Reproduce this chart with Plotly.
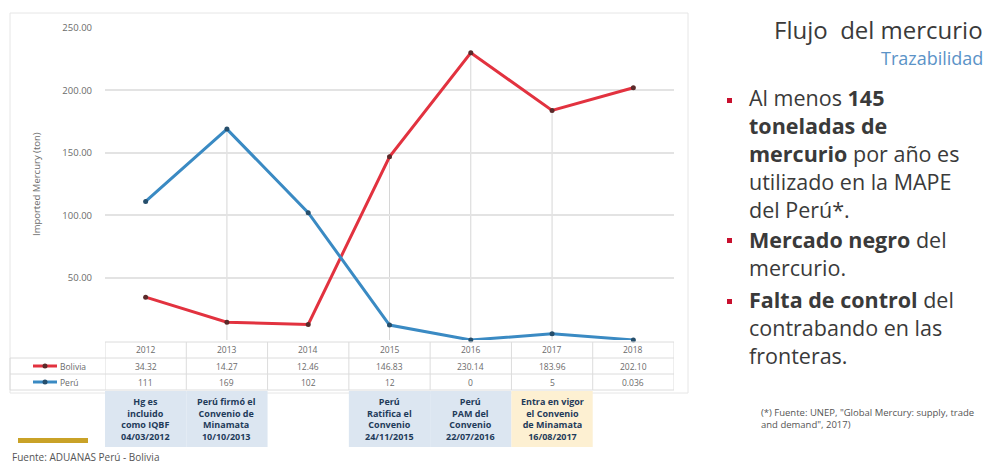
import plotly.graph_objects as go

years = [2012, 2013, 2014, 2015, 2016, 2017, 2018]
bolivia = [34.32, 14.27, 12.46, 146.83, 230.14, 183.96, 202.10]
peru = [111, 169, 102, 12, 0, 5, 0.036]
bolivia_labels = ["34.32", "14.27", "12.46", "146.83", "230.14", "183.96", "202.10"]
peru_labels = ["111", "169", "102", "12", "0", "5", "0.036"]
y_ticks = [50, 100, 150, 200, 250]
y_ticktext = ["50.00", "100.00", "150.00", "200.00", "250.00"]
event_years = [2012, 2013, 2015, 2016, 2017]
event_texts = [
    "Hg es<br>incluido<br>como IQBF<br>04/03/2012",
    "Perú firmó el<br>Convenio de<br>Minamata<br>10/10/2013",
    "Perú<br>Ratifica el<br>Convenio<br>24/11/2015",
    "Perú<br>PAM del<br>Convenio<br>22/07/2016",
    "Entra en vigor<br>el Convenio<br>de Minamata<br>16/08/2017",
]
event_colors = ["#dce6f1", "#dce6f1", "#dce6f1", "#dce6f1", "#fdf0d2"]
drop_years = [2013, 2015, 2016, 2017]

W, H = 986, 475
PL, PR, PT, PB = 105, 674, 28, 340  # plot area in page pixels
L = PL
R = W - PR
T = PT
B = H - PB
PW = PR - PL
PH = PB - PT


def px(x):
    return (x - PL) / PW


def py(y):
    return (PB - y) / PH


RED = "#e2323f"
BLUE = "#3a8ac3"
GRID = "#e3e3e3"
TXT = "#6b6b6b"
FONT = "Open Sans"

fig = go.Figure()
fig.add_trace(go.Scatter(x=years, y=bolivia, mode="lines+markers", name="Bolivia",
                         line=dict(color=RED, width=3),
                         marker=dict(color="#5a2a2a", size=5), cliponaxis=False))
fig.add_trace(go.Scatter(x=years, y=peru, mode="lines+markers", name="Perú",
                         line=dict(color=BLUE, width=3),
                         marker=dict(color="#264e6b", size=5), cliponaxis=False))

shapes = []
ann = []


def note(x, y, text, size, color=TXT, xanchor="center", xref="paper", **kw):
    ann.append(dict(x=x, y=y, xref=xref, yref="paper", text=text, showarrow=False,
                    xanchor=xanchor, yanchor="middle",
                    font=dict(size=size, color=color, family=FONT), **kw))


# outer chart frame
shapes.append(dict(type="rect", xref="paper", yref="paper", x0=px(10), x1=px(688),
                   y0=py(393), y1=py(13), line=dict(color="#e6e6e6", width=1), layer="below"))

# drop lines
for yr in drop_years:
    i = years.index(yr)
    top = max(bolivia[i], peru[i])
    shapes.append(dict(type="line", xref="x", yref="y", x0=yr, x1=yr, y0=0, y1=top,
                       line=dict(color="#d6d6d6", width=1), layer="below"))

# table lines
row_lines = [342, 358, 374, 390]
for k, yl in enumerate(row_lines):
    x0 = px(105) if k == 0 else px(10)
    shapes.append(dict(type="line", xref="paper", yref="paper", x0=x0, x1=px(674),
                       y0=py(yl), y1=py(yl), line=dict(color="#dcdcdc", width=1)))
for j in range(len(years) + 1):
    xb = years[0] - 0.5 + j
    shapes.append(dict(type="line", xref="x", yref="paper", x0=xb, x1=xb,
                       y0=py(342), y1=py(390), line=dict(color="#dcdcdc", width=1)))
shapes.append(dict(type="line", xref="paper", yref="paper", x0=px(10), x1=px(10),
                   y0=py(358), y1=py(390), line=dict(color="#dcdcdc", width=1)))

for i, yr in enumerate(years):
    note(yr, py(350), str(yr), 8.5, xref="x")
    note(yr, py(366), bolivia_labels[i], 8.5, xref="x")
    note(yr, py(382), peru_labels[i], 8.5, xref="x")

# legend keys in table
for name, col, mcol, yy in [("Bolivia", RED, "#5a2a2a", 366), ("Perú", BLUE, "#264e6b", 382)]:
    shapes.append(dict(type="line", xref="paper", yref="paper", x0=px(33), x1=px(57),
                       y0=py(yy), y1=py(yy), line=dict(color=col, width=3)))
    shapes.append(dict(type="circle", xref="paper", yref="paper", x0=px(42.5), x1=px(47.5),
                       y0=py(yy + 2.5), y1=py(yy - 2.5), fillcolor=mcol, line=dict(width=0)))
    note(px(58), py(yy), name, 8.5, xanchor="left")

# event boxes
for yr, txt, colr in zip(event_years, event_texts, event_colors):
    shapes.append(dict(type="rect", xref="x", yref="paper", x0=yr - 0.5, x1=yr + 0.5,
                       y0=py(447), y1=py(391), fillcolor=colr, line=dict(width=0)))
    note(yr, py(419), "<b>" + txt + "</b>", 9, color="#1f3b5a", xref="x", align="center")

# y-axis title
note(px(36), py(184), "Imported Mercury (ton)", 9.5, textangle=-90)

# bottom-left source
shapes.append(dict(type="rect", xref="paper", yref="paper", x0=px(18), x1=px(88),
                   y0=py(443), y1=py(438), fillcolor="#c9a227", line=dict(width=0)))
note(px(10), py(457), "Fuente: ADUANAS Perú - Bolivia", 10, color="#555555", xanchor="left")

# right-side text
DARK = "#3a3a3a"
note(px(985), py(30), "Flujo  del mercurio", 24, color=DARK, xanchor="right")
note(px(985), py(58), "Trazabilidad", 18, color="#5b93c7", xanchor="right")

paragraphs = [
    (153, "Al menos <b>145</b><br><b>toneladas de</b><br><b>mercurio</b> por año es"
          "<br>utilizado en la MAPE<br>del Perú*.", 100),
    (253, "<b>Mercado negro</b> del<br>mercurio.", 240),
    (327.5, "<b>Falta de control</b> del<br>contrabando en las<br>fronteras.", 301),
]
for yc, txt, ybullet in paragraphs:
    note(px(747), py(yc), txt, 21.5, color=DARK, xanchor="left", align="left")
    shapes.append(dict(type="rect", xref="paper", yref="paper", x0=px(727), x1=px(732),
                       y0=py(ybullet + 3), y1=py(ybullet - 2), fillcolor="#c8102e",
                       line=dict(width=0)))

note(px(759), py(418), "(*) Fuente: UNEP, \"Global Mercury: supply, trade<br>and demand\", 2017)",
     9.5, color="#555555", xanchor="left", align="left")

fig.update_layout(
    width=W, height=H,
    margin=dict(l=L, r=R, t=T, b=B),
    paper_bgcolor="white", plot_bgcolor="white",
    showlegend=False,
    shapes=shapes, annotations=ann,
    xaxis=dict(range=[2011.5, 2018.5], showgrid=False, showticklabels=False, zeroline=False,
               showline=False),
    yaxis=dict(range=[0, 250], tickvals=y_ticks, ticktext=y_ticktext, showgrid=True,
               gridcolor=GRID, gridwidth=1.5, zeroline=False, showline=False,
               tickfont=dict(size=9.5, color=TXT, family=FONT), ticks="", ticklabelstandoff=12),
    font=dict(family=FONT),
)

fig.write_html("out.html", config={"displayModeBar": False},
               post_script="document.body.style.margin='0';document.body.style.overflow='hidden';")
